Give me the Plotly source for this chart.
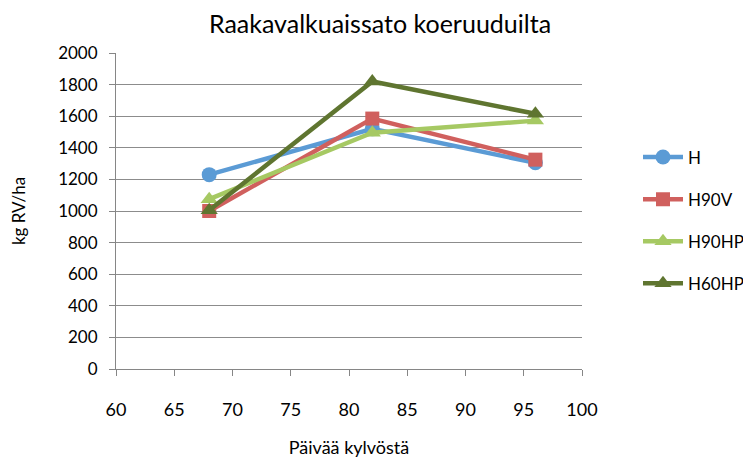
import plotly.graph_objects as go

days = [68, 82, 96]
series_names = ["H", "H90V", "H90HP", "H60HP"]
H = [1230, 1520, 1305]
H90V = [1000, 1585, 1325]
H90HP = [1075, 1495, 1572]
H60HP = [1005, 1820, 1615]
x_ticks = [60, 65, 70, 75, 80, 85, 90, 95, 100]
y_ticks = [0, 200, 400, 600, 800, 1000, 1200, 1400, 1600, 1800, 2000]

values = [H, H90V, H90HP, H60HP]
colors = ["#5B9BD5", "#D0605E", "#A6C963", "#5F7530"]
symbols = ["circle", "square", "triangle-up", "triangle-up"]
sizes = [15, 14, 15, 15]

FONT = "Lato, 'Open Sans', sans-serif"

fig = go.Figure()
for i, (name, vals) in enumerate(zip(series_names, values)):
    fig.add_trace(go.Scatter(
        x=days, y=vals, name=name, mode="lines+markers",
        line=dict(color=colors[i], width=4.5),
        marker=dict(symbol=symbols[i], size=sizes[i], color=colors[i]),
        legendgroup=name,
    ))

fig.update_layout(
    width=751, height=460,
    margin=dict(l=108, r=177, t=45, b=99, autoexpand=False),
    paper_bgcolor="white", plot_bgcolor="white",
    font=dict(family=FONT, color="#000000", size=16),
    title=dict(text="Raakavalkuaissato koeruuduilta", x=372/751, xref="container",
               xanchor="center",
               y=1 - 7/460, yref="container", yanchor="top", font=dict(size=25, family=FONT)),
    showlegend=True,
    legend=dict(x=630/751, xref="container", xanchor="left", y=0.47, yanchor="middle",
                font=dict(size=17), tracegroupgap=17, itemwidth=40),
)
fig.update_xaxes(
    range=[60, 100], tickvals=x_ticks, ticktext=[str(t) for t in x_ticks],
    showgrid=False, showline=True, linecolor="#868686", linewidth=1,
    ticks="outside", tickcolor="#868686", ticklen=6, tickfont=dict(size=18),
    ticklabelstandoff=18,
    zeroline=False,
    title=dict(text="Päivää kylvöstä", font=dict(size=18), standoff=22),
)
fig.update_yaxes(
    range=[0, 2000], tickvals=y_ticks, ticktext=[str(t) for t in y_ticks],
    showgrid=True, gridcolor="#8C8C8C", gridwidth=1,
    showline=True, linecolor="#868686", linewidth=1,
    ticks="outside", tickcolor="#868686", ticklen=6, tickfont=dict(size=17),
    ticklabelstandoff=8,
    zeroline=False,
    title=dict(text="kg RV/ha", font=dict(size=17), standoff=30),
)

fig.write_html("out.html")
